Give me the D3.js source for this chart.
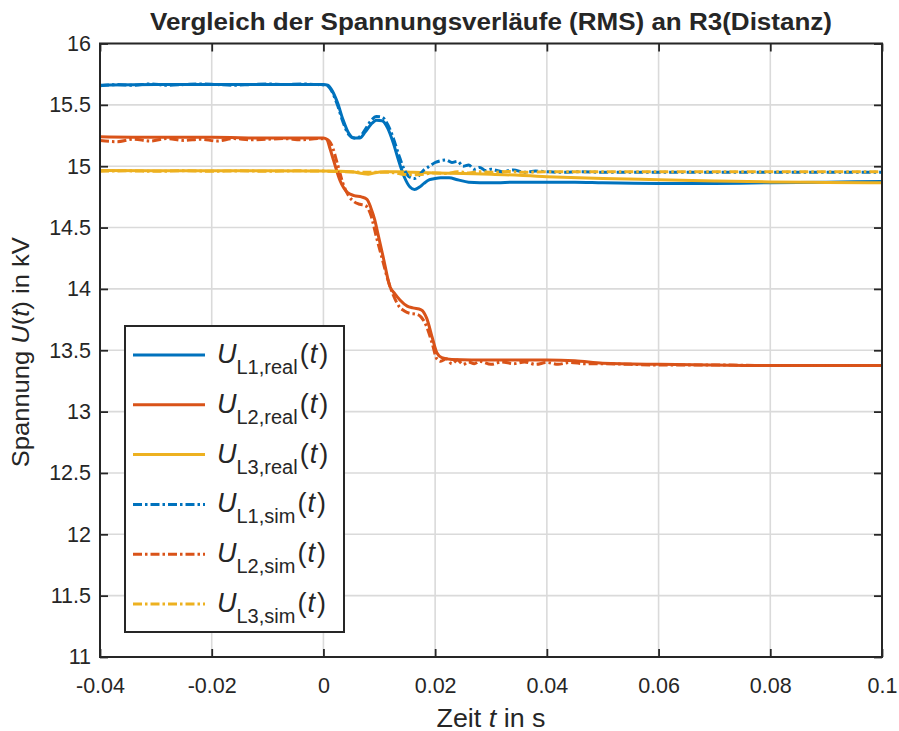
<!DOCTYPE html>
<html>
<head>
<meta charset="utf-8">
<script src="https://cdn.jsdelivr.net/npm/d3@7"></script>
<style>
  html, body { margin: 0; padding: 0; background: #fff; }
  svg text { font-family: "Liberation Sans", Arial, Helvetica, sans-serif; fill: #262626; }
</style>
</head>
<body>
<svg id="chart" width="899" height="731"></svg>
<script>
// ---- Data: RMS voltage at R3 (measured vs. simulated), time in s, voltage in kV ----
const tL1Real = [-0.04,-0.03,-0.02,-0.01,0,0.0008,0.0015,0.0025,0.0035,0.0045,0.0055,0.0065,0.0075,0.0085,0.0095,0.0105,0.0115,0.0125,0.0135,0.0145,0.0155,0.0163,0.0172,0.018,0.019,0.020,0.021,0.0225,0.024,0.026,0.03,0.035,0.04,0.045,0.05,0.06,0.07,0.08,0.09,0.1];
const uL1Real = [15.66,15.665,15.665,15.665,15.665,15.66,15.62,15.52,15.38,15.27,15.23,15.23,15.28,15.34,15.375,15.37,15.31,15.19,15.04,14.91,14.83,14.81,14.83,14.86,14.89,14.9,14.905,14.905,14.89,14.87,14.865,14.87,14.87,14.87,14.865,14.86,14.86,14.865,14.87,14.875];

const tL2Real = [-0.04,-0.03,-0.02,-0.01,0,0.0006,0.0012,0.0018,0.003,0.0042,0.0055,0.0068,0.0078,0.0085,0.0092,0.0098,0.0107,0.0119,0.0128,0.0137,0.015,0.016,0.0175,0.0185,0.0195,0.0203,0.0212,0.023,0.03,0.035,0.04,0.045,0.05,0.06,0.07,0.08,0.09,0.1];
const uL2Real = [15.24,15.235,15.235,15.23,15.23,15.22,15.14,15.05,14.88,14.79,14.76,14.75,14.73,14.66,14.56,14.44,14.26,14.02,13.96,13.91,13.86,13.845,13.83,13.76,13.6,13.48,13.44,13.425,13.42,13.42,13.42,13.415,13.395,13.385,13.38,13.375,13.375,13.375];

const tL3Real = [-0.04,-0.03,-0.02,-0.01,0,0.005,0.007,0.008,0.009,0.011,0.013,0.016,0.02,0.025,0.03,0.04,0.05,0.06,0.07,0.08,0.09,0.1];
const uL3Real = [14.965,14.963,14.962,14.962,14.96,14.955,14.94,14.935,14.945,14.955,14.955,14.95,14.945,14.94,14.935,14.915,14.9,14.89,14.88,14.872,14.868,14.865];

const tL1Sim = [-0.04,-0.037,-0.034,-0.031,-0.028,-0.025,-0.022,-0.019,-0.016,-0.013,-0.01,-0.007,-0.004,-0.001,0.0005,0.0015,0.0025,0.0035,0.0045,0.0055,0.0065,0.0075,0.0085,0.0095,0.0105,0.0115,0.0125,0.0135,0.0145,0.0155,0.0163,0.017,0.018,0.019,0.020,0.021,0.022,0.023,0.024,0.025,0.026,0.027,0.028,0.029,0.030,0.032,0.034,0.036,0.038,0.040,0.043,0.046,0.05,0.06,0.07,0.08,0.09,0.1];
const uL1Sim = [15.655,15.665,15.66,15.67,15.66,15.665,15.67,15.665,15.66,15.665,15.67,15.665,15.67,15.665,15.66,15.61,15.5,15.36,15.26,15.23,15.24,15.3,15.37,15.405,15.4,15.34,15.23,15.09,14.97,14.91,14.9,14.92,14.97,15.0,15.03,15.045,15.05,15.03,15.04,15.0,15.01,14.975,14.99,14.965,14.975,14.955,14.97,14.95,14.96,14.955,14.95,14.955,14.95,14.95,14.95,14.95,14.95,14.95];

const tL2Sim = [-0.04,-0.037,-0.034,-0.031,-0.028,-0.025,-0.022,-0.019,-0.016,-0.013,-0.01,-0.007,-0.004,-0.001,0.0005,0.0015,0.0025,0.0035,0.0045,0.0055,0.0065,0.0075,0.0085,0.0095,0.0105,0.0115,0.0125,0.0135,0.0145,0.0155,0.0165,0.0175,0.0185,0.0195,0.0203,0.021,0.022,0.023,0.024,0.025,0.026,0.027,0.028,0.03,0.032,0.034,0.036,0.038,0.04,0.042,0.044,0.047,0.05,0.055,0.06,0.07,0.08,0.09,0.1];
const uL2Sim = [15.21,15.2,15.22,15.205,15.225,15.21,15.22,15.205,15.225,15.215,15.22,15.225,15.215,15.225,15.22,15.17,15.02,14.86,14.76,14.71,14.69,14.68,14.6,14.42,14.25,14.08,13.95,13.86,13.82,13.8,13.795,13.77,13.69,13.55,13.43,13.41,13.43,13.39,13.42,13.385,13.405,13.39,13.41,13.385,13.405,13.39,13.405,13.385,13.4,13.385,13.4,13.39,13.39,13.385,13.38,13.38,13.375,13.375,13.375];

const tL3Sim = [-0.04,-0.035,-0.03,-0.025,-0.02,-0.015,-0.01,-0.005,0,0.004,0.008,0.012,0.014,0.016,0.018,0.02,0.022,0.024,0.026,0.028,0.03,0.033,0.036,0.04,0.05,0.06,0.07,0.08,0.09,0.1];
const uL3Sim = [14.958,14.962,14.958,14.963,14.958,14.962,14.958,14.962,14.96,14.955,14.95,14.95,14.935,14.93,14.935,14.945,14.94,14.955,14.945,14.955,14.95,14.957,14.95,14.955,14.955,14.955,14.955,14.955,14.955,14.955];

const xTicks = [-0.04,-0.02,0,0.02,0.04,0.06,0.08,0.1];
const yTicks = [11,11.5,12,12.5,13,13.5,14,14.5,15,15.5,16];
const xTickLabels = ["-0.04","-0.02","0","0.02","0.04","0.06","0.08","0.1"];
const yTickLabels = ["11","11.5","12","12.5","13","13.5","14","14.5","15","15.5","16"];

const seriesNames = ["L1,real","L2,real","L3,real","L1,sim","L2,sim","L3,sim"];
const seriesColors = ["#0072BD","#D95319","#EDB120","#0072BD","#D95319","#EDB120"];

// ---- Layout ----
const W = 899, H = 731;
const plot = { left: 100, right: 882, top: 43.5, bottom: 657 };
const svg = d3.select("#chart");

const x = d3.scaleLinear().domain([-0.04, 0.1]).range([plot.left, plot.right]);
const y = d3.scaleLinear().domain([11, 16]).range([plot.bottom, plot.top]);

svg.append("rect").attr("width", W).attr("height", H).attr("fill", "#fff");

// grid
const grid = svg.append("g").attr("stroke", "#dadada").attr("stroke-width", 1.6);
grid.selectAll("line.gx").data(xTicks).join("line")
  .attr("x1", d => x(d)).attr("x2", d => x(d)).attr("y1", plot.top).attr("y2", plot.bottom);
grid.selectAll("line.gy").data(yTicks).join("line")
  .attr("y1", d => y(d)).attr("y2", d => y(d)).attr("x1", plot.left).attr("x2", plot.right);

// clip
svg.append("clipPath").attr("id", "clip").append("rect")
  .attr("x", plot.left).attr("y", plot.top)
  .attr("width", plot.right - plot.left).attr("height", plot.bottom - plot.top);

const simDash = "9,3,2.5,3";
const series = [
  { t: tL1Real, u: uL1Real, dash: null },
  { t: tL2Real, u: uL2Real, dash: null },
  { t: tL3Real, u: uL3Real, dash: null },
  { t: tL1Sim, u: uL1Sim, dash: simDash },
  { t: tL2Sim, u: uL2Sim, dash: simDash },
  { t: tL3Sim, u: uL3Sim, dash: simDash }
];

const line = d3.line().x(d => x(d[0])).y(d => y(d[1])).curve(d3.curveMonotoneX);
const lines = svg.append("g").attr("clip-path", "url(#clip)");
series.forEach((s, i) => {
  lines.append("path")
    .datum(s.t.map((tv, k) => [tv, s.u[k]]))
    .attr("fill", "none")
    .attr("stroke", seriesColors[i])
    .attr("stroke-width", 3)
    .attr("stroke-linejoin", "round")
    .attr("stroke-dasharray", s.dash)
    .attr("d", line);
});

// axes (box with inward ticks on all sides)
const axisG = svg.append("g");
const tickLen = 8;
const axBottom = d3.axisBottom(x).tickValues(xTicks).tickSizeInner(-tickLen).tickSizeOuter(0)
  .tickFormat((d, i) => xTickLabels[i]).tickPadding(21);
const axTop = d3.axisTop(x).tickValues(xTicks).tickSizeInner(-tickLen).tickSizeOuter(0).tickFormat("");
const axLeft = d3.axisLeft(y).tickValues(yTicks).tickSizeInner(-tickLen).tickSizeOuter(0)
  .tickFormat((d, i) => yTickLabels[i]).tickPadding(9);
const axRight = d3.axisRight(y).tickValues(yTicks).tickSizeInner(-tickLen).tickSizeOuter(0).tickFormat("");

function styleAxis(g) {
  g.select(".domain").remove();
  g.selectAll(".tick line").attr("stroke", "#262626").attr("stroke-width", 1.8);
  g.selectAll(".tick text").attr("font-size", 21.5).attr("fill", "#262626")
    .attr("font-family", "'Liberation Sans', Arial, sans-serif");
}
axisG.append("g").attr("transform", `translate(0,${plot.bottom})`).call(axBottom).call(styleAxis);
axisG.append("g").attr("transform", `translate(0,${plot.top})`).call(axTop).call(styleAxis);
axisG.append("g").attr("transform", `translate(${plot.left},0)`).call(axLeft).call(styleAxis);
axisG.append("g").attr("transform", `translate(${plot.right},0)`).call(axRight).call(styleAxis);

svg.append("rect")
  .attr("x", plot.left).attr("y", plot.top)
  .attr("width", plot.right - plot.left).attr("height", plot.bottom - plot.top)
  .attr("fill", "none").attr("stroke", "#262626").attr("stroke-width", 2);

// title
svg.append("text")
  .attr("x", (plot.left + plot.right) / 2).attr("y", 30)
  .attr("text-anchor", "middle").attr("font-weight", "bold").attr("font-size", 23)
  .attr("textLength", 682).attr("lengthAdjust", "spacingAndGlyphs")
  .attr("fill", "#000")
  .text("Vergleich der Spannungsverläufe (RMS) an R3(Distanz)");

// x label
const xl = svg.append("text")
  .attr("x", (plot.left + plot.right) / 2).attr("y", 727)
  .attr("text-anchor", "middle").attr("font-size", 25)
  .attr("textLength", 109).attr("lengthAdjust", "spacingAndGlyphs");
xl.append("tspan").text("Zeit ");
xl.append("tspan").attr("font-style", "italic").text("t");
xl.append("tspan").text(" in s");

// y label
const yl = svg.append("text")
  .attr("transform", `translate(29,${(plot.top + plot.bottom) / 2 + 2}) rotate(-90)`)
  .attr("text-anchor", "middle").attr("font-size", 24)
  .attr("textLength", 230).attr("lengthAdjust", "spacingAndGlyphs");
yl.append("tspan").text("Spannung ");
yl.append("tspan").attr("font-style", "italic").text("U");
yl.append("tspan").text("(");
yl.append("tspan").attr("font-style", "italic").text("t");
yl.append("tspan").text(") in kV");

// legend
const leg = { x: 125, y: 326, w: 219, h: 306 };
const lg = svg.append("g");
lg.append("rect").attr("x", leg.x).attr("y", leg.y).attr("width", leg.w).attr("height", leg.h)
  .attr("fill", "#fff").attr("stroke", "#262626").attr("stroke-width", 2);
const rowY = d3.scaleLinear().domain([0, 5]).range([355, 604]);
seriesNames.forEach((name, i) => {
  const cy = rowY(i);
  lg.append("line")
    .attr("x1", 133).attr("x2", 205).attr("y1", cy).attr("y2", cy)
    .attr("stroke", seriesColors[i]).attr("stroke-width", 3)
    .attr("stroke-dasharray", series[i].dash);
  const tx = lg.append("text").attr("x", 217).attr("y", cy + 8).attr("font-size", 27).attr("fill", "#000");
  tx.append("tspan").attr("font-style", "italic").text("U");
  tx.append("tspan").attr("font-size", 20).attr("dy", 11).text(name);
  tx.append("tspan").attr("dy", -11).attr("dx", 2).text("(");
  tx.append("tspan").attr("font-style", "italic").attr("dx", 1).text("t");
  tx.append("tspan").attr("dx", 2).text(")");
});
</script>
</body>
</html>
